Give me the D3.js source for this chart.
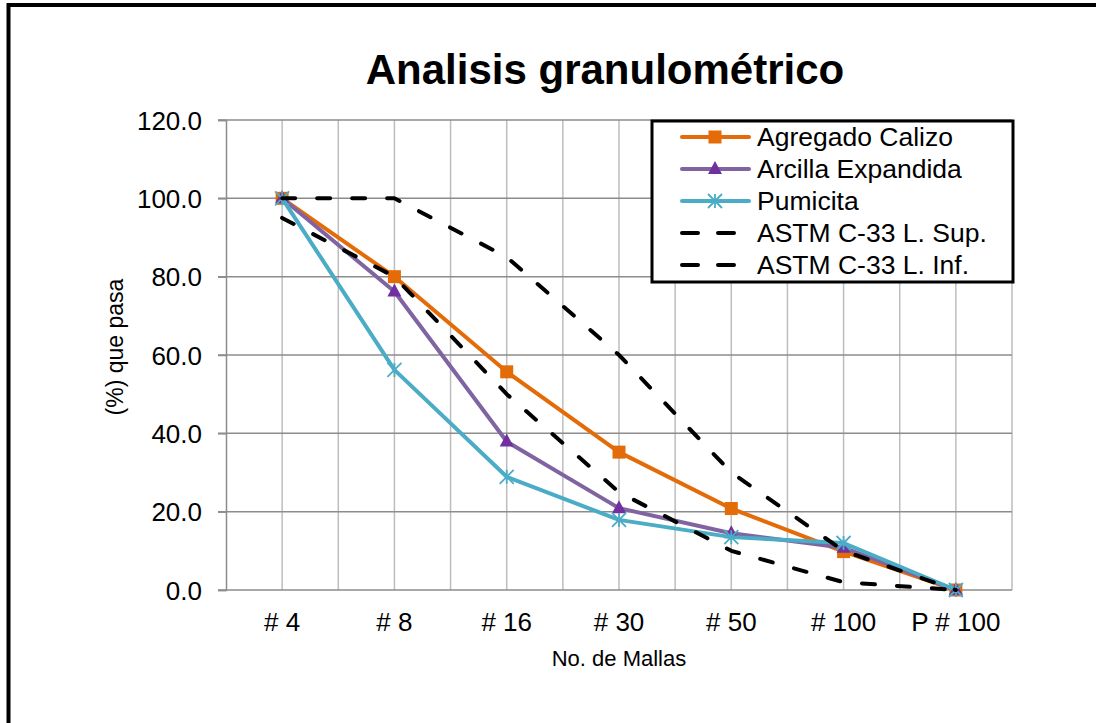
<!DOCTYPE html>
<html>
<head>
<meta charset="utf-8">
<script src="https://cdn.jsdelivr.net/npm/d3@7"></script>
<style>
  body { margin: 0; background: #fff; }
  svg text { font-family: "Liberation Sans", Arial, sans-serif; fill: #000; }
</style>
</head>
<body>
<svg id="chart" width="1096" height="723"></svg>
<script>
// Data
const categories = ["# 4", "# 8", "# 16", "# 30", "# 50", "# 100", "P # 100"];
const calizo = [100, 80, 55.7, 35.2, 20.8, 9.8, 0];
const arcilla = [100, 76.2, 37.9, 20.9, 14.5, 10.8, 0];
const pumicita = [100, 56.2, 28.9, 17.9, 13.5, 12.0, 0];
const astmSup = [100, 100, 85, 60, 30, 10, 0];
const astmInf = [95, 80, 50, 25, 10, 2, 0];
const yTicks = [0, 20, 40, 60, 80, 100, 120];

const series = [
    { name: "Agregado Calizo", values: calizo, color: "#E36C09", marker: "square", markerColor: "#E36C09" },
    { name: "Arcilla Expandida", values: arcilla, color: "#8064A2", marker: "triangle", markerColor: "#7030A0" },
    { name: "Pumicita", values: pumicita, color: "#4BACC6", marker: "star", markerColor: "#4BACC6" },
    { name: "ASTM C-33 L. Sup.", values: astmSup, color: "#000", dashed: true },
    { name: "ASTM C-33 L. Inf.", values: astmInf, color: "#000", dashed: true }
];

const svg = d3.select("#chart");
const plot = { left: 226, right: 1012, top: 120, bottom: 590 };

// Outer border (only top and left visible in frame)
svg.append("rect")
    .attr("x", 8.5).attr("y", 5)
    .attr("width", 1120).attr("height", 740)
    .attr("fill", "none").attr("stroke", "#000").attr("stroke-width", 4);

const x = d3.scaleBand().domain(categories).range([plot.left, plot.right]).padding(0);
const bw = x.bandwidth();
const cx = c => x(c) + bw / 2;
const y = d3.scaleLinear().domain([0, 120]).range([plot.bottom, plot.top]);

// Vertical gridlines: band edges and centers
const vLines = [];
categories.forEach(c => { vLines.push(x(c)); vLines.push(cx(c)); });
vLines.push(plot.right);
svg.append("g").selectAll("line")
    .data(vLines.slice(1))
    .enter().append("line")
    .attr("x1", d => d).attr("x2", d => d)
    .attr("y1", plot.top).attr("y2", plot.bottom)
    .attr("stroke", "#bdbdbd").attr("stroke-width", 1.5);

// Horizontal gridlines
svg.append("g").selectAll("line")
    .data(yTicks.filter(d => d > 0))
    .enter().append("line")
    .attr("x1", plot.left - 8).attr("x2", plot.right)
    .attr("y1", d => y(d)).attr("y2", d => y(d))
    .attr("stroke", "#8c8c8c").attr("stroke-width", 1.5);

// Y axis
const yAxis = svg.append("g")
    .attr("transform", `translate(${plot.left},0)`)
    .call(d3.axisLeft(y).tickValues(yTicks).tickFormat(d3.format(".1f")).tickSize(8).tickPadding(16));
yAxis.select(".domain").attr("stroke", "#8c8c8c").attr("stroke-width", 1.5);
yAxis.selectAll(".tick line").attr("stroke", "#8c8c8c").attr("stroke-width", 1.5);
yAxis.selectAll("text").style("font-size", "26px").attr("dy", "0.35em");

// X axis
const xAxis = svg.append("g")
    .attr("transform", `translate(0,${plot.bottom})`)
    .call(d3.axisBottom(x).tickSize(0).tickPadding(23));
xAxis.select(".domain").remove();
svg.append("line")
    .attr("x1", plot.left - 8).attr("x2", plot.right)
    .attr("y1", plot.bottom).attr("y2", plot.bottom)
    .attr("stroke", "#8c8c8c").attr("stroke-width", 1.5);
xAxis.selectAll("text").style("font-size", "26px");

// Titles
svg.append("text")
    .attr("x", 605).attr("y", 84)
    .attr("text-anchor", "middle")
    .style("font-size", "42px").style("font-weight", "bold")
    .text("Analisis granulométrico");
svg.append("text")
    .attr("x", 619).attr("y", 666)
    .attr("text-anchor", "middle")
    .style("font-size", "22px")
    .text("No. de Mallas");
svg.append("text")
    .attr("transform", "translate(123,347) rotate(-90)")
    .attr("text-anchor", "middle")
    .style("font-size", "23px")
    .text("(%) que pasa");

// Markers
function drawMarker(g, type, color, px, py) {
    if (type === "square") {
        g.append("rect").attr("x", px - 6.5).attr("y", py - 6.5)
            .attr("width", 13).attr("height", 13).attr("fill", color);
    } else if (type === "triangle") {
        g.append("path")
            .attr("d", `M${px},${py - 8}L${px + 7},${py + 5}L${px - 7},${py + 5}Z`)
            .attr("fill", color);
    } else if (type === "star") {
        const s = 7;
        g.append("path")
            .attr("d", `M${px - s},${py - s}L${px + s},${py + s}M${px - s},${py + s}L${px + s},${py - s}M${px},${py - s}L${px},${py + s}`)
            .attr("stroke", color).attr("stroke-width", 1.8).attr("fill", "none");
    }
}

const line = d3.line().x(d => cx(d.c)).y(d => y(d.v));
series.forEach(s => {
    const pts = s.values.map((v, i) => ({ c: categories[i], v: v }));
    const g = svg.append("g");
    g.append("path")
        .datum(pts)
        .attr("d", line)
        .attr("fill", "none")
        .attr("stroke", s.color)
        .attr("stroke-width", 4)
        .attr("stroke-linejoin", "round")
        .attr("stroke-linecap", "round")
        .attr("stroke-dasharray", s.dashed ? "13,22" : null);
    if (s.marker) {
        pts.forEach(p => drawMarker(g, s.marker, s.markerColor, cx(p.c), y(p.v)));
    }
});

// Legend
const legend = svg.append("g");
legend.append("rect")
    .attr("x", 652).attr("y", 121)
    .attr("width", 361).attr("height", 161)
    .attr("fill", "#fff").attr("stroke", "#000").attr("stroke-width", 3);
series.forEach((s, i) => {
    const ly = 137 + i * 32;
    const g = legend.append("g");
    g.append("line")
        .attr("x1", 682).attr("x2", 749)
        .attr("y1", ly).attr("y2", ly)
        .attr("stroke", s.color)
        .attr("stroke-width", 4)
        .attr("stroke-linecap", "round")
        .attr("stroke-dasharray", s.dashed ? "16,20" : null);
    if (s.marker) drawMarker(g, s.marker, s.markerColor, 715, ly);
    g.append("text")
        .attr("x", 757).attr("y", ly + 9)
        .style("font-size", "26.5px")
        .text(s.name);
});
</script>
</body>
</html>
